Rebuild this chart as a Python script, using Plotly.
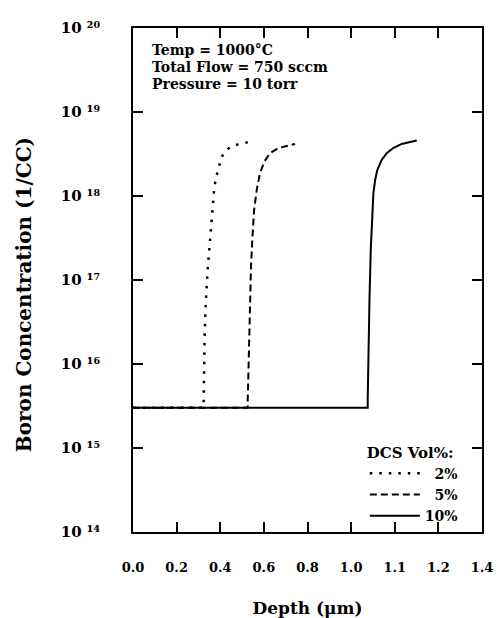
import plotly.graph_objects as go

# x positions are in the axis' linear units (ticks every 0.2 unit); tick labels as printed
x_tickvals = [0.0, 0.2, 0.4, 0.6, 0.8, 1.0, 1.2, 1.4, 1.6]
x_ticktext = ["0.0", "0.2", "0.4", "0.6", "0.8", "1.0", "1.1", "1.2", "1.4"]
y_tickvals = [1e14, 1e15, 1e16, 1e17, 1e18, 1e19, 1e20]
y_ticktext = ["10\u00a0¹⁴", "10\u00a0¹⁵", "10\u00a0¹⁶", "10\u00a0¹⁷",
              "10\u00a0¹⁸", "10\u00a0¹⁹", "10\u00a0²⁰"]

x_2 = [0.0, 0.324, 0.324, 0.326, 0.329, 0.333, 0.341, 0.358, 0.362, 0.368, 0.373,
       0.384, 0.407, 0.434, 0.475, 0.514, 0.555]
y_2 = [3.02e15, 3.02e15, 3.72e15, 1.35e16, 2.51e16, 4.79e16, 1.20e17, 4.27e17, 5.62e17,
       9.77e17, 1.29e18, 1.78e18, 2.95e18, 3.63e18, 4.07e18, 4.27e18, 4.68e18]

x_5 = [0.0, 0.526, 0.526, 0.529, 0.532, 0.537, 0.541, 0.547, 0.555, 0.567, 0.582,
       0.602, 0.628, 0.666, 0.705, 0.743]
y_5 = [3.02e15, 3.02e15, 3.72e15, 9.33e15, 2.34e16, 5.75e16, 1.45e17, 3.02e17, 6.76e17,
       1.17e18, 1.86e18, 2.57e18, 3.24e18, 3.72e18, 3.98e18, 4.17e18]

x_10 = [0.0, 1.076, 1.076, 1.079, 1.084, 1.090, 1.096, 1.102, 1.110, 1.120, 1.140,
        1.163, 1.193, 1.232, 1.301]
y_10 = [3.02e15, 3.02e15, 3.72e15, 1.48e16, 5.75e16, 2.29e17, 5.62e17, 1.07e18, 1.55e18,
        2.04e18, 2.69e18, 3.24e18, 3.72e18, 4.17e18, 4.57e18]

info_lines = ["Temp = 1000°C", "Total Flow = 750 sccm", "Pressure = 10 torr"]

FONT = "DejaVu Serif"
NB = "\u00a0"

fig = go.Figure()
fig.add_trace(go.Scatter(x=x_2, y=y_2, mode="lines", name=NB * 2 + "2%",
                         line=dict(color="black", width=2.5, dash="2.5px,7px")))
fig.add_trace(go.Scatter(x=x_5, y=y_5, mode="lines", name=NB * 2 + "5%",
                         line=dict(color="black", width=2, dash="7px,4px")))
fig.add_trace(go.Scatter(x=x_10, y=y_10, mode="lines", name="10%",
                         line=dict(color="black", width=2)))

for i, line in enumerate(info_lines):
    fig.add_annotation(xref="paper", yref="paper", x=0.05, y=0.957 - i * 0.0345,
                       xanchor="left", yanchor="middle", align="left", showarrow=False,
                       text=line, font=dict(family=FONT, size=14, color="black", weight="bold"))

# y-axis title (placed slightly below the plot centre, as in the original)
fig.add_annotation(xref="paper", yref="paper", x=-0.312, y=0.47, xanchor="center",
                   yanchor="middle", textangle=-90, showarrow=False,
                   text="Boron Concentration (1/CC)",
                   font=dict(family=FONT, size=20, color="black", weight="bold"))

fig.update_layout(
    width=503, height=618,
    margin=dict(l=133, r=21, t=28, b=86),
    paper_bgcolor="white", plot_bgcolor="white",
    font=dict(family=FONT, color="black"),
    showlegend=True,
    legend=dict(x=0.945, y=0.186, xanchor="right", yanchor="top",
                bgcolor="rgba(0,0,0,0)", borderwidth=0,
                title=dict(text="DCS Vol%:", font=dict(family=FONT, size=15, weight="bold")),
                font=dict(family=FONT, size=14, weight="bold"),
                tracegroupgap=0, itemwidth=50),
    xaxis=dict(range=[0, 1.6], tickvals=x_tickvals, ticktext=x_ticktext, automargin=False,
               ticks="inside", ticklen=10, tickwidth=2, tickcolor="black",
               showline=True, linewidth=2, linecolor="black", mirror="ticks",
               showgrid=False, zeroline=False, ticklabelstandoff=22,
               tickfont=dict(family=FONT, size=13, weight="bold"),
               title=dict(text="Depth (μm)", standoff=36,
                          font=dict(family=FONT, size=17, weight="bold"))),
    yaxis=dict(type="log", range=[14, 20], tickvals=y_tickvals, ticktext=y_ticktext,
               automargin=False,
               ticks="inside", ticklen=10, tickwidth=2, tickcolor="black",
               showline=True, linewidth=2, linecolor="black", mirror="ticks",
               showgrid=False, zeroline=False, ticklabelstandoff=28,
               tickfont=dict(family=FONT, size=15, weight="bold")),
)

fig.write_html("out.html", config={"displayModeBar": False},
               post_script="document.body.style.margin='0';")
